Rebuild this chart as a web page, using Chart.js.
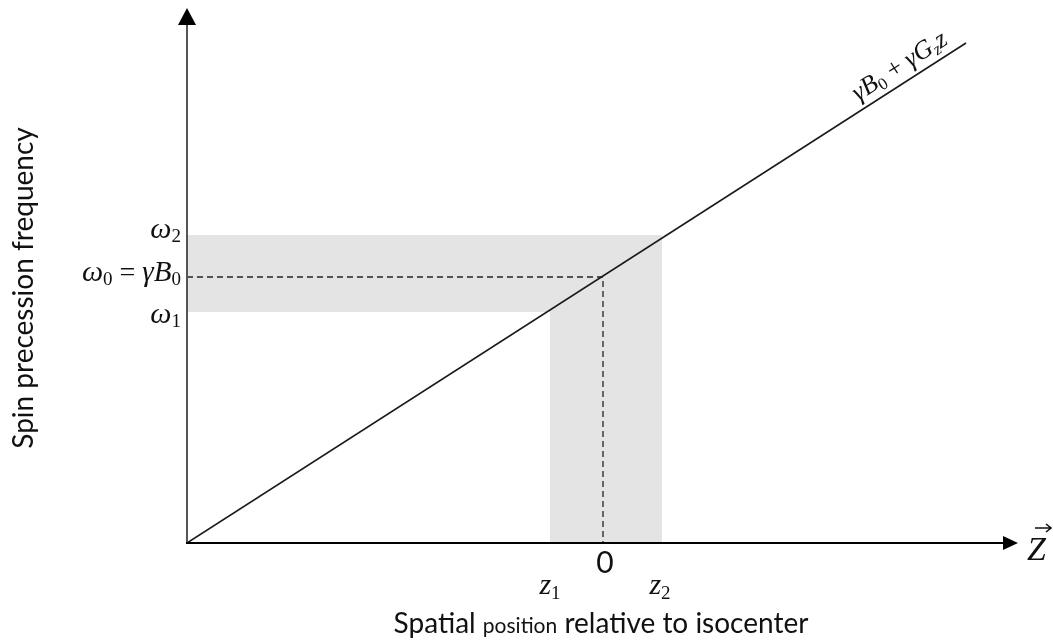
<!DOCTYPE html>
<html>
<head>
<meta charset="utf-8">
<script src="https://cdn.jsdelivr.net/npm/chart.js@4.4.0/dist/chart.umd.min.js"></script>
<style>
    html, body { margin: 0; background: #fff; }
    #wrap { width: 1053px; height: 644px; }
</style>
</head>
<body>
<div id="wrap"><canvas id="myChart"></canvas></div>
<script>
// z positions (arbitrary units, isocenter at 0) and precession frequencies
const zRange = [-41.6, 41.5];
const freqRange = [0, 53.5];
const lineZ = [-41.6, 36.3];
const lineFreq = [0, 50.0];
const isoZ = 0;
const omega0 = 26.6;
const sliceZ = [-5.3, 5.9];        // z1, z2
const sliceFreq = [23.1, 30.8];    // w1, w2

const ink = '#111';
const serifIt = (s) => `italic ${s}px "Liberation Serif"`;
const serif = (s) => `${s}px "Liberation Serif"`;
const sans = (s) => `${s}px Lato`;

function drawRuns(ctx, runs, x, y, align){
    let w = 0;
    runs.forEach(r => {
        ctx.font = r.font;
        r.w = ctx.measureText(r.text).width;
        w += r.w;
    });
    let cx = align == 'right' ? x - w : align == 'center' ? x - w / 2 : x;
    runs.forEach(r => {
        ctx.font = r.font;
        ctx.fillText(r.text, cx, y + (r.dy || 0));
        cx += r.w;
    });
}

const axesAndLabels = {
    id: 'axesAndLabels',
    afterDatasetsDraw(chart){
        const ctx = chart.ctx;
        const xs = chart.scales.x, ys = chart.scales.y;
        const x0 = xs.getPixelForValue(zRange[0]);
        const y0 = ys.getPixelForValue(0);
        const yTop = ys.getPixelForValue(freqRange[1]);
        const xEnd = xs.getPixelForValue(zRange[1]);

        ctx.save();
        // frequency axis
        ctx.strokeStyle = '#555';
        ctx.lineWidth = 2;
        ctx.beginPath();
        ctx.moveTo(x0, y0);
        ctx.lineTo(x0, yTop + 16);
        ctx.stroke();
        ctx.fillStyle = '#000';
        ctx.beginPath();
        ctx.moveTo(x0, yTop);
        ctx.lineTo(x0 - 9, yTop + 17);
        ctx.lineTo(x0 + 9, yTop + 17);
        ctx.closePath();
        ctx.fill();

        // z axis
        ctx.strokeStyle = '#000';
        ctx.beginPath();
        ctx.moveTo(x0 - 1, y0);
        ctx.lineTo(xEnd - 14, y0);
        ctx.stroke();
        ctx.beginPath();
        ctx.moveTo(xEnd, y0);
        ctx.lineTo(xEnd - 15, y0 - 7);
        ctx.lineTo(xEnd - 15, y0 + 7);
        ctx.closePath();
        ctx.fill();
        ctx.restore();
    },
    afterDraw(chart){
        const ctx = chart.ctx;
        const xs = chart.scales.x, ys = chart.scales.y;
        ctx.save();
        ctx.fillStyle = ink;
        ctx.textBaseline = 'alphabetic';

        // frequency labels on the left
        const lx = xs.getPixelForValue(zRange[0]) - 6;
        drawRuns(ctx, [
            {text: 'ω', font: serifIt(30)},
            {text: '2', font: serif(19), dy: 4}
        ], lx, ys.getPixelForValue(sliceFreq[1]) + 3, 'right');
        drawRuns(ctx, [
            {text: 'ω', font: serifIt(30)},
            {text: '0', font: serif(19), dy: 4},
            {text: ' = ', font: serif(28)},
            {text: 'γB', font: serifIt(29)},
            {text: '0', font: serif(19), dy: 4}
        ], lx, ys.getPixelForValue(omega0) + 4, 'right');
        drawRuns(ctx, [
            {text: 'ω', font: serifIt(30)},
            {text: '1', font: serif(19), dy: 4}
        ], lx, ys.getPixelForValue(sliceFreq[0]) + 11, 'right');

        // z labels under the axis
        drawRuns(ctx, [{text: '0', font: sans(30)}], xs.getPixelForValue(isoZ) + 2, 573, 'center');
        drawRuns(ctx, [
            {text: 'z', font: serifIt(30)},
            {text: '1', font: serif(19), dy: 5}
        ], xs.getPixelForValue(sliceZ[0]), 594, 'center');
        drawRuns(ctx, [
            {text: 'z', font: serifIt(30)},
            {text: '2', font: serif(19), dy: 5}
        ], xs.getPixelForValue(sliceZ[1]) - 2, 594, 'center');

        // arrow label for the z axis
        const zx = xs.getPixelForValue(zRange[1]) + 9;
        const zy = ys.getPixelForValue(0);
        ctx.font = serifIt(34);
        ctx.fillText('Z', zx, zy + 17);
        ctx.strokeStyle = ink;
        ctx.lineWidth = 1.6;
        ctx.beginPath();
        ctx.moveTo(zx + 8, zy - 15);
        ctx.lineTo(zx + 24, zy - 15);
        ctx.moveTo(zx + 19, zy - 19);
        ctx.lineTo(zx + 24, zy - 15);
        ctx.lineTo(zx + 19, zy - 11);
        ctx.stroke();

        // gradient formula along the line
        const ang = Math.atan2(
            ys.getPixelForValue(lineFreq[0]) - ys.getPixelForValue(lineFreq[1]),
            xs.getPixelForValue(lineZ[1]) - xs.getPixelForValue(lineZ[0]));
        const fz = 26.0;
        const fx = xs.getPixelForValue(fz);
        const fy = ys.getPixelForValue(lineFreq[0] + (fz - lineZ[0]) * (lineFreq[1] - lineFreq[0]) / (lineZ[1] - lineZ[0]));
        ctx.translate(fx - Math.sin(ang) * 9, fy - Math.cos(ang) * 9);
        ctx.rotate(-ang);
        drawRuns(ctx, [
            {text: 'γB', font: serifIt(26)},
            {text: '0', font: serif(17), dy: 4},
            {text: ' + ', font: serif(26)},
            {text: 'γG', font: serifIt(26)},
            {text: 'z', font: serifIt(17), dy: 4},
            {text: 'z', font: serifIt(26)}
        ], 0, 0, 'left');
        ctx.restore();

        // axis titles
        ctx.save();
        ctx.fillStyle = ink;
        drawRuns(ctx, [
            {text: 'Spatial ', font: sans(28)},
            {text: 'position', font: sans(21)},
            {text: ' relative to isocenter', font: sans(28)}
        ], 601, 633, 'center');
        ctx.translate(33, 288);
        ctx.rotate(-Math.PI / 2);
        drawRuns(ctx, [{text: 'Spin precession frequency', font: sans(28)}], 0, 0, 'center');
        ctx.restore();
    }
};

function getChart(){
    const ctx = document.getElementById('myChart');

    new Chart(ctx, {
        type: 'scatter',
        data: {
            datasets: [{
                // w = gamma*B0 + gamma*Gz*z
                data: lineZ.map((z, i) => ({x: z, y: lineFreq[i]})),
                showLine: true,
                borderColor: '#1a1a1a',
                borderWidth: 1.6,
                pointRadius: 0
            }, {
                // isocenter guides
                data: [
                    {x: zRange[0], y: omega0},
                    {x: isoZ, y: omega0},
                    {x: isoZ, y: 0}
                ],
                showLine: true,
                borderColor: '#222',
                borderWidth: 1.3,
                borderDash: [6, 4],
                pointRadius: 0
            }, {
                // excited slice: frequency band and matching z band
                data: [
                    {x: zRange[0], y: sliceFreq[0]},
                    {x: sliceZ[0], y: sliceFreq[0]},
                    {x: sliceZ[0], y: 0},
                    {x: sliceZ[1], y: 0},
                    {x: sliceZ[1], y: sliceFreq[1]},
                    {x: zRange[0], y: sliceFreq[1]}
                ],
                showLine: true,
                fill: 'shape',
                backgroundColor: '#e5e4e5',
                borderWidth: 0,
                pointRadius: 0
            }]
        },
        options: {
            responsive: true,
            maintainAspectRatio: false,
            animation: false,
            layout: {padding: {left: 187, top: 8, right: 35, bottom: 101}},
            scales: {
                x: {type: 'linear', min: zRange[0], max: zRange[1], display: false},
                y: {type: 'linear', min: freqRange[0], max: freqRange[1], display: false}
            },
            plugins: {
                legend: {display: false},
                tooltip: {enabled: false}
            }
        },
        plugins: [axesAndLabels]
    });
}

document.addEventListener('DOMContentLoaded', (event) => {
    getChart();
});
</script>
</body>
</html>
